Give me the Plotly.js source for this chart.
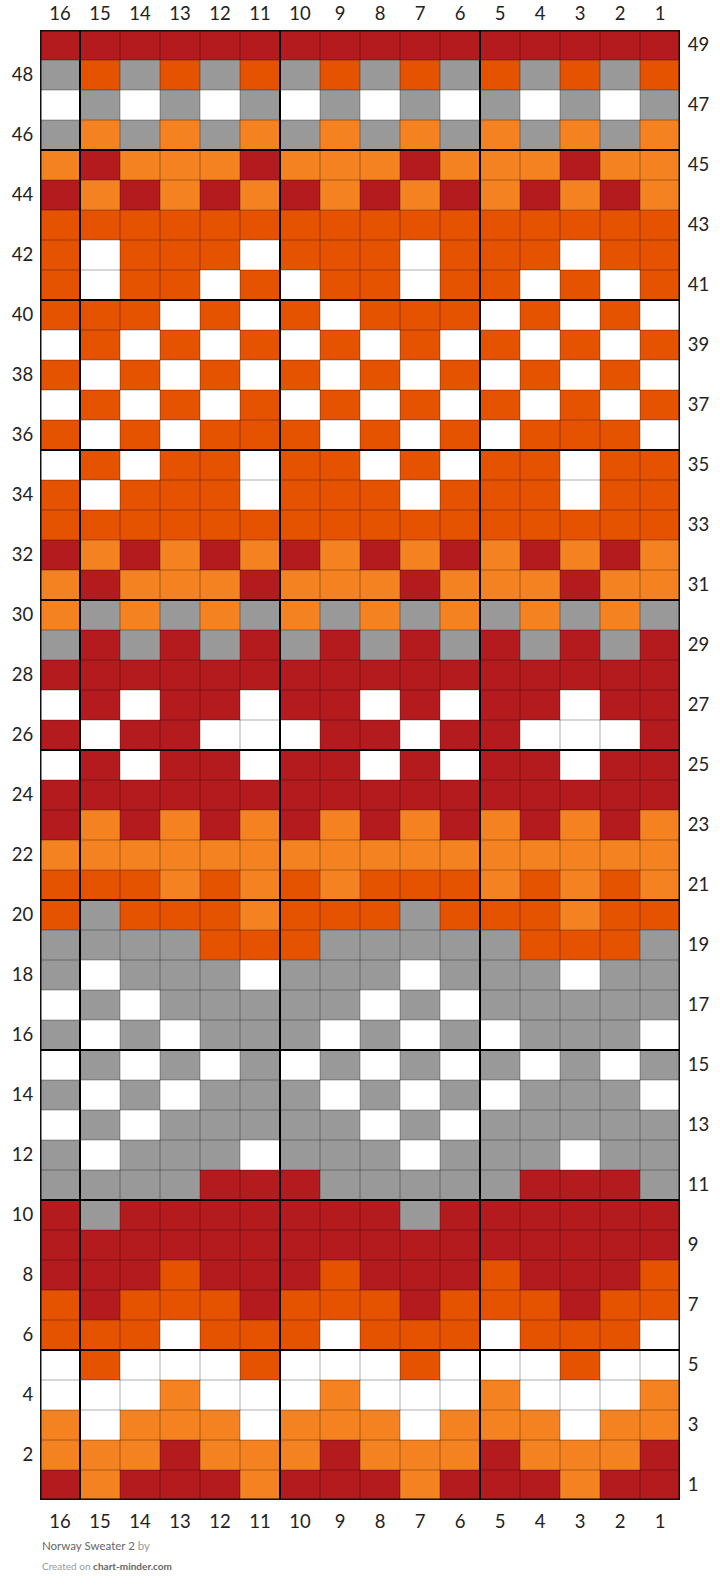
<!DOCTYPE html>
<html>
<head>
<meta charset="utf-8">
<script src="https://cdn.plot.ly/plotly-3.0.1.min.js"></script>
<style>
html,body{margin:0;padding:0;background:#fff;}
#chart{width:720px;height:1593px;}
</style>
</head>
<body>
<div id="chart"></div>
<script>
// Column numbers as they appear left to right
const columns = [16,15,14,13,12,11,10,9,8,7,6,5,4,3,2,1];
// Row numbers (bottom = 1)
const rowNumbers = Array.from({length:49},(_,i)=>i+1);
// Colour keys: R dark red, O orange-red, L light orange, G grey, W white
const colourKeys = ['R','O','L','G','W'];
const palette = ['#b31b1e','#e55200','#f58220','#999999','#ffffff'];
// Pattern rows, listed from row 49 (top) down to row 1; each string reads col 16 -> col 1
const patternTopToBottom = [
  'RRRRRRRRRRRRRRRR', // 49
  'GOGOGOGOGOGOGOGO', // 48
  'WGWGWGWGWGWGWGWG', // 47
  'GLGLGLGLGLGLGLGL', // 46
  'LRLLLRLLLRLLLRLL', // 45
  'RLRLRLRLRLRLRLRL', // 44
  'OOOOOOOOOOOOOOOO', // 43
  'OWOOOWOOOWOOOWOO', // 42
  'OWOOWOWOOWOOWOWO', // 41
  'OOOWOWOWOOOWOWOW', // 40
  'WOWOWOWOWOWOWOWO', // 39
  'OWOWOWOWOWOWOWOW', // 38
  'WOWOWOWOWOWOWOWO', // 37
  'OWOWOOOWOWOWOOOW', // 36
  'WOWOOWOOWOWOOWOO', // 35
  'OWOOOWOOOWOOOWOO', // 34
  'OOOOOOOOOOOOOOOO', // 33
  'RLRLRLRLRLRLRLRL', // 32
  'LRLLLRLLLRLLLRLL', // 31
  'LGLGLGLGLGLGLGLG', // 30
  'GRGRGRGRGRGRGRGR', // 29
  'RRRRRRRRRRRRRRRR', // 28
  'WRWRRWRRWRWRRWRR', // 27
  'RWRRWWWRRWRRWWWR', // 26
  'WRWRRWRRWRWRRWRR', // 25
  'RRRRRRRRRRRRRRRR', // 24
  'RLRLRLRLRLRLRLRL', // 23
  'LLLLLLLLLLLLLLLL', // 22
  'OOOLOLOLOOOLOLOL', // 21
  'OGOOOLOOOGOOOLOO', // 20
  'GGGGOOOGGGGGOOOG', // 19
  'GWGGGWGGGWGGGWGG', // 18
  'WGWGGGGGWGWGGGGG', // 17
  'GWGWGGGWGWGWGGGW', // 16
  'WGWGWGWGWGWGWGWG', // 15
  'GWGWGGGWGWGWGGGW', // 14
  'WGWGGGGGWGWGGGGG', // 13
  'GWGGGWGGGWGGGWGG', // 12
  'GGGGRRRGGGGGRRRG', // 11
  'RGRRRRRRRGRRRRRR', // 10
  'RRRRRRRRRRRRRRRR', // 9
  'RRRORRRORRRORRRO', // 8
  'OROOOROOOROOOROO', // 7
  'OOOWOOOWOOOWOOOW', // 6
  'WOWWWOWWWOWWWOWW', // 5
  'WWWLWWWLWWWLWWWL', // 4
  'LWLLLWLLLWLLLWLL', // 3
  'LLLRLLLRLLLRLLLR', // 2
  'RLRRRLRRRLRRRLRR'  // 1
];
const leftTicks = rowNumbers.filter(n=>n%2===0);
const rightTicks = rowNumbers.filter(n=>n%2===1);
const chartTitle = 'Norway Sweater 2';

// Build z: row index 0 => row 1
const z = rowNumbers.map(r => {
  const s = patternTopToBottom[49 - r];
  return s.split('').map(ch => colourKeys.indexOf(ch));
});

const n = palette.length;
const colorscale = [];
palette.forEach((c,i)=>{
  colorscale.push([i/n, c]);
  colorscale.push([(i+1)/n, c]);
});

const traces = [
  {
    type:'heatmap', x: columns, y: rowNumbers, z: z,
    zmin:-0.5, zmax:n-0.5, colorscale: colorscale, showscale:false,
    hoverinfo:'skip', xaxis:'x', yaxis:'y'
  },
  {
    type:'scatter', mode:'markers', x:[columns[0]], y:[rowNumbers[0]],
    marker:{opacity:0}, hoverinfo:'skip', showlegend:false, xaxis:'x2', yaxis:'y2'
  }
];

const shapes = [];
const nc = columns.length, nr = rowNumbers.length;
// thin cell borders
for (let i=1;i<nc;i++){
  const xv = i + 0.5;
  shapes.push({type:'line', xref:'x', yref:'y', x0:xv, x1:xv, y0:0.5, y1:nr+0.5,
    line:{color:'rgba(0,0,0,0.32)', width:1}});
}
for (let j=1;j<nr;j++){
  const yv = j + 0.5;
  shapes.push({type:'line', xref:'x', yref:'y', x0:0.5, x1:nc+0.5, y0:yv, y1:yv,
    line:{color:'rgba(0,0,0,0.32)', width:1}});
}
// thick lines every 5
for (let i=5;i<nc;i+=5){
  const xv = i + 0.5;
  shapes.push({type:'line', xref:'x', yref:'y', x0:xv, x1:xv, y0:0.5, y1:nr+0.5,
    line:{color:'#000', width:2}});
}
for (let j=5;j<nr;j+=5){
  const yv = j + 0.5;
  shapes.push({type:'line', xref:'x', yref:'y', x0:0.5, x1:nc+0.5, y0:yv, y1:yv,
    line:{color:'#000', width:2}});
}
// outer border
shapes.push({type:'rect', xref:'x', yref:'y', x0:0.5, x1:nc+0.5, y0:0.5, y1:nr+0.5,
  line:{color:'#111', width:3}, fillcolor:'rgba(0,0,0,0)'});

const tickFont = {family:'Lato, "Open Sans", sans-serif', size:18.5, color:'#222'};
const xr = [nc+0.5, 0.5];
const yr = [0.5, nr+0.5];
const plotH = 1593 - 30 - 93;

const layout = {
  width:720, height:1593,
  margin:{l:40, r:40, t:30, b:93, pad:0},
  paper_bgcolor:'#fff', plot_bgcolor:'#fff',
  showlegend:false,
  xaxis:{range:xr, tickvals:columns, ticktext:columns.map(String), side:'bottom',
    showgrid:false, zeroline:false, showline:false, ticks:'outside', ticklen:5,
    tickcolor:'rgba(0,0,0,0)', tickfont:tickFont, fixedrange:true},
  xaxis2:{range:xr, tickvals:columns, ticktext:columns.map(String), side:'top',
    overlaying:'x', showgrid:false, zeroline:false, showline:false, ticks:'outside',
    ticklen:2, tickcolor:'rgba(0,0,0,0)', tickfont:tickFont, fixedrange:true},
  yaxis:{range:yr, tickvals:leftTicks, ticktext:leftTicks.map(String), side:'left',
    showgrid:false, zeroline:false, showline:false, ticks:'outside', ticklen:2,
    tickcolor:'rgba(0,0,0,0)', tickfont:tickFont, fixedrange:true},
  yaxis2:{range:yr, tickvals:rightTicks, ticktext:rightTicks.map(String), side:'right',
    overlaying:'y', showgrid:false, zeroline:false, showline:false, ticks:'outside',
    ticklen:3, tickcolor:'rgba(0,0,0,0)', tickfont:tickFont, fixedrange:true},
  shapes: shapes,
  annotations:[
    {xref:'paper', yref:'paper', x:0, y:-45/plotH, xanchor:'left', yanchor:'middle',
     showarrow:false, align:'left',
     text: chartTitle + ' <span style="color:#999">by</span>',
     font:{family:'Lato, "Open Sans", sans-serif', size:11.5, color:'#666'}},
    {xref:'paper', yref:'paper', x:0, y:-66/plotH, xanchor:'left', yanchor:'middle',
     showarrow:false, align:'left',
     text: '<span style="color:#999">Created on</span> <b>chart-minder.com</b>',
     font:{family:'Lato, "Open Sans", sans-serif', size:10, color:'#666'}}
  ]
};

Plotly.newPlot('chart', traces, layout, {staticPlot:true, displayModeBar:false});
</script>
</body>
</html>
